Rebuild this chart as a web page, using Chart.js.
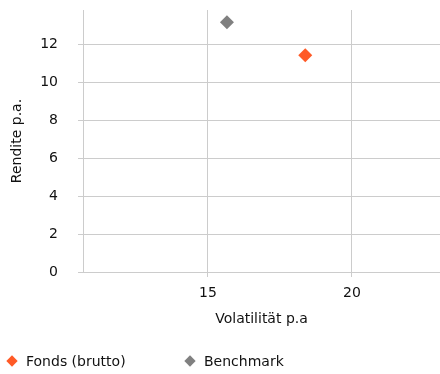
<!DOCTYPE html>
<html>
<head>
<meta charset="utf-8">
<script src="https://cdn.jsdelivr.net/npm/chart.js@4.4.1/dist/chart.umd.min.js"></script>
<style>
  html, body { margin: 0; padding: 0; background: #fff; }
  #wrap { position: relative; width: 440px; height: 374px; }
  #legend { position: absolute; left: 0; top: 353px; font: 14px "DejaVu Sans", sans-serif; color: #111; }
  .item { position: absolute; white-space: nowrap; }
  .dia { position: absolute; width: 8px; height: 8px; transform: rotate(45deg); }
</style>
</head>
<body>
<div id="wrap">
  <canvas id="myChart" width="440" height="374"></canvas>
  <div id="legend"></div>
</div>
<script>
// data
const seriesNames = ['Fonds (brutto)', 'Benchmark'];
const seriesColors = ['#ff5a26', '#808080'];
const volatility = [18.38, 15.66];
const returns = [11.42, 13.16];

const xTitle = 'Volatilität p.a';
const yTitle = 'Rendite p.a.';

const ctx = document.getElementById('myChart');
const fontFamily = '"DejaVu Sans", sans-serif';
const gridColor = '#cccccc';

var datasets = [];
seriesNames.forEach((name, i) => {
    datasets.push({
        label: name,
        data: [{ x: volatility[i], y: returns[i] }],
        backgroundColor: seriesColors[i],
        borderColor: seriesColors[i],
        borderWidth: 0,
        pointStyle: 'rectRot',
        pointRadius: 7,
        pointHoverRadius: 7
    });
});

new Chart(ctx, {
    type: 'scatter',
    data: { datasets: datasets },
    options: {
        responsive: false,
        animation: false,
        layout: { autoPadding: false, padding: { left: 0, right: 0, top: 10, bottom: 42 } },
        plugins: {
            legend: { display: false },
            tooltip: { enabled: false }
        },
        scales: {
            x: {
                min: 10.66,
                max: 23.06,
                ticks: {
                    stepSize: 5,
                    includeBounds: false,
                    padding: 8,
                    color: '#111',
                    font: { family: fontFamily, size: 14 }
                },
                grid: { color: gridColor, tickLength: 5 },
                border: { display: false },
                title: {
                    display: true,
                    text: xTitle,
                    color: '#111',
                    font: { family: fontFamily, size: 14 },
                    padding: { top: 4, bottom: 4 }
                },
                afterFit: function(scale) {
                    scale.height = 60;
                    scale.paddingLeft = 0;
                    scale.paddingRight = 0;
                }
            },
            y: {
                min: 0,
                max: 13.8,
                ticks: {
                    stepSize: 2,
                    includeBounds: false,
                    padding: 20,
                    color: '#111',
                    font: { family: fontFamily, size: 14 }
                },
                grid: { color: gridColor, tickLength: 5 },
                border: { display: true, color: gridColor },
                title: {
                    display: true,
                    text: yTitle,
                    color: '#111',
                    font: { family: fontFamily, size: 14 },
                    padding: { top: 8.6, bottom: 0 }
                },
                afterFit: function(scale) {
                    scale.width = 83;
                    scale.paddingTop = 0;
                    scale.paddingBottom = 0;
                }
            }
        }
    }
});

// legend under the chart
const legendX = [6, 184];
const legendEl = document.getElementById('legend');
seriesNames.forEach((name, i) => {
    const item = document.createElement('div');
    item.className = 'item';
    item.style.left = legendX[i] + 'px';
    item.style.top = '0px';
    const d = document.createElement('span');
    d.className = 'dia';
    d.style.background = seriesColors[i];
    d.style.left = '2px';
    d.style.top = '4px';
    const t = document.createElement('span');
    t.textContent = name;
    t.style.marginLeft = '20px';
    item.appendChild(d);
    item.appendChild(t);
    legendEl.appendChild(item);
});
</script>
</body>
</html>
